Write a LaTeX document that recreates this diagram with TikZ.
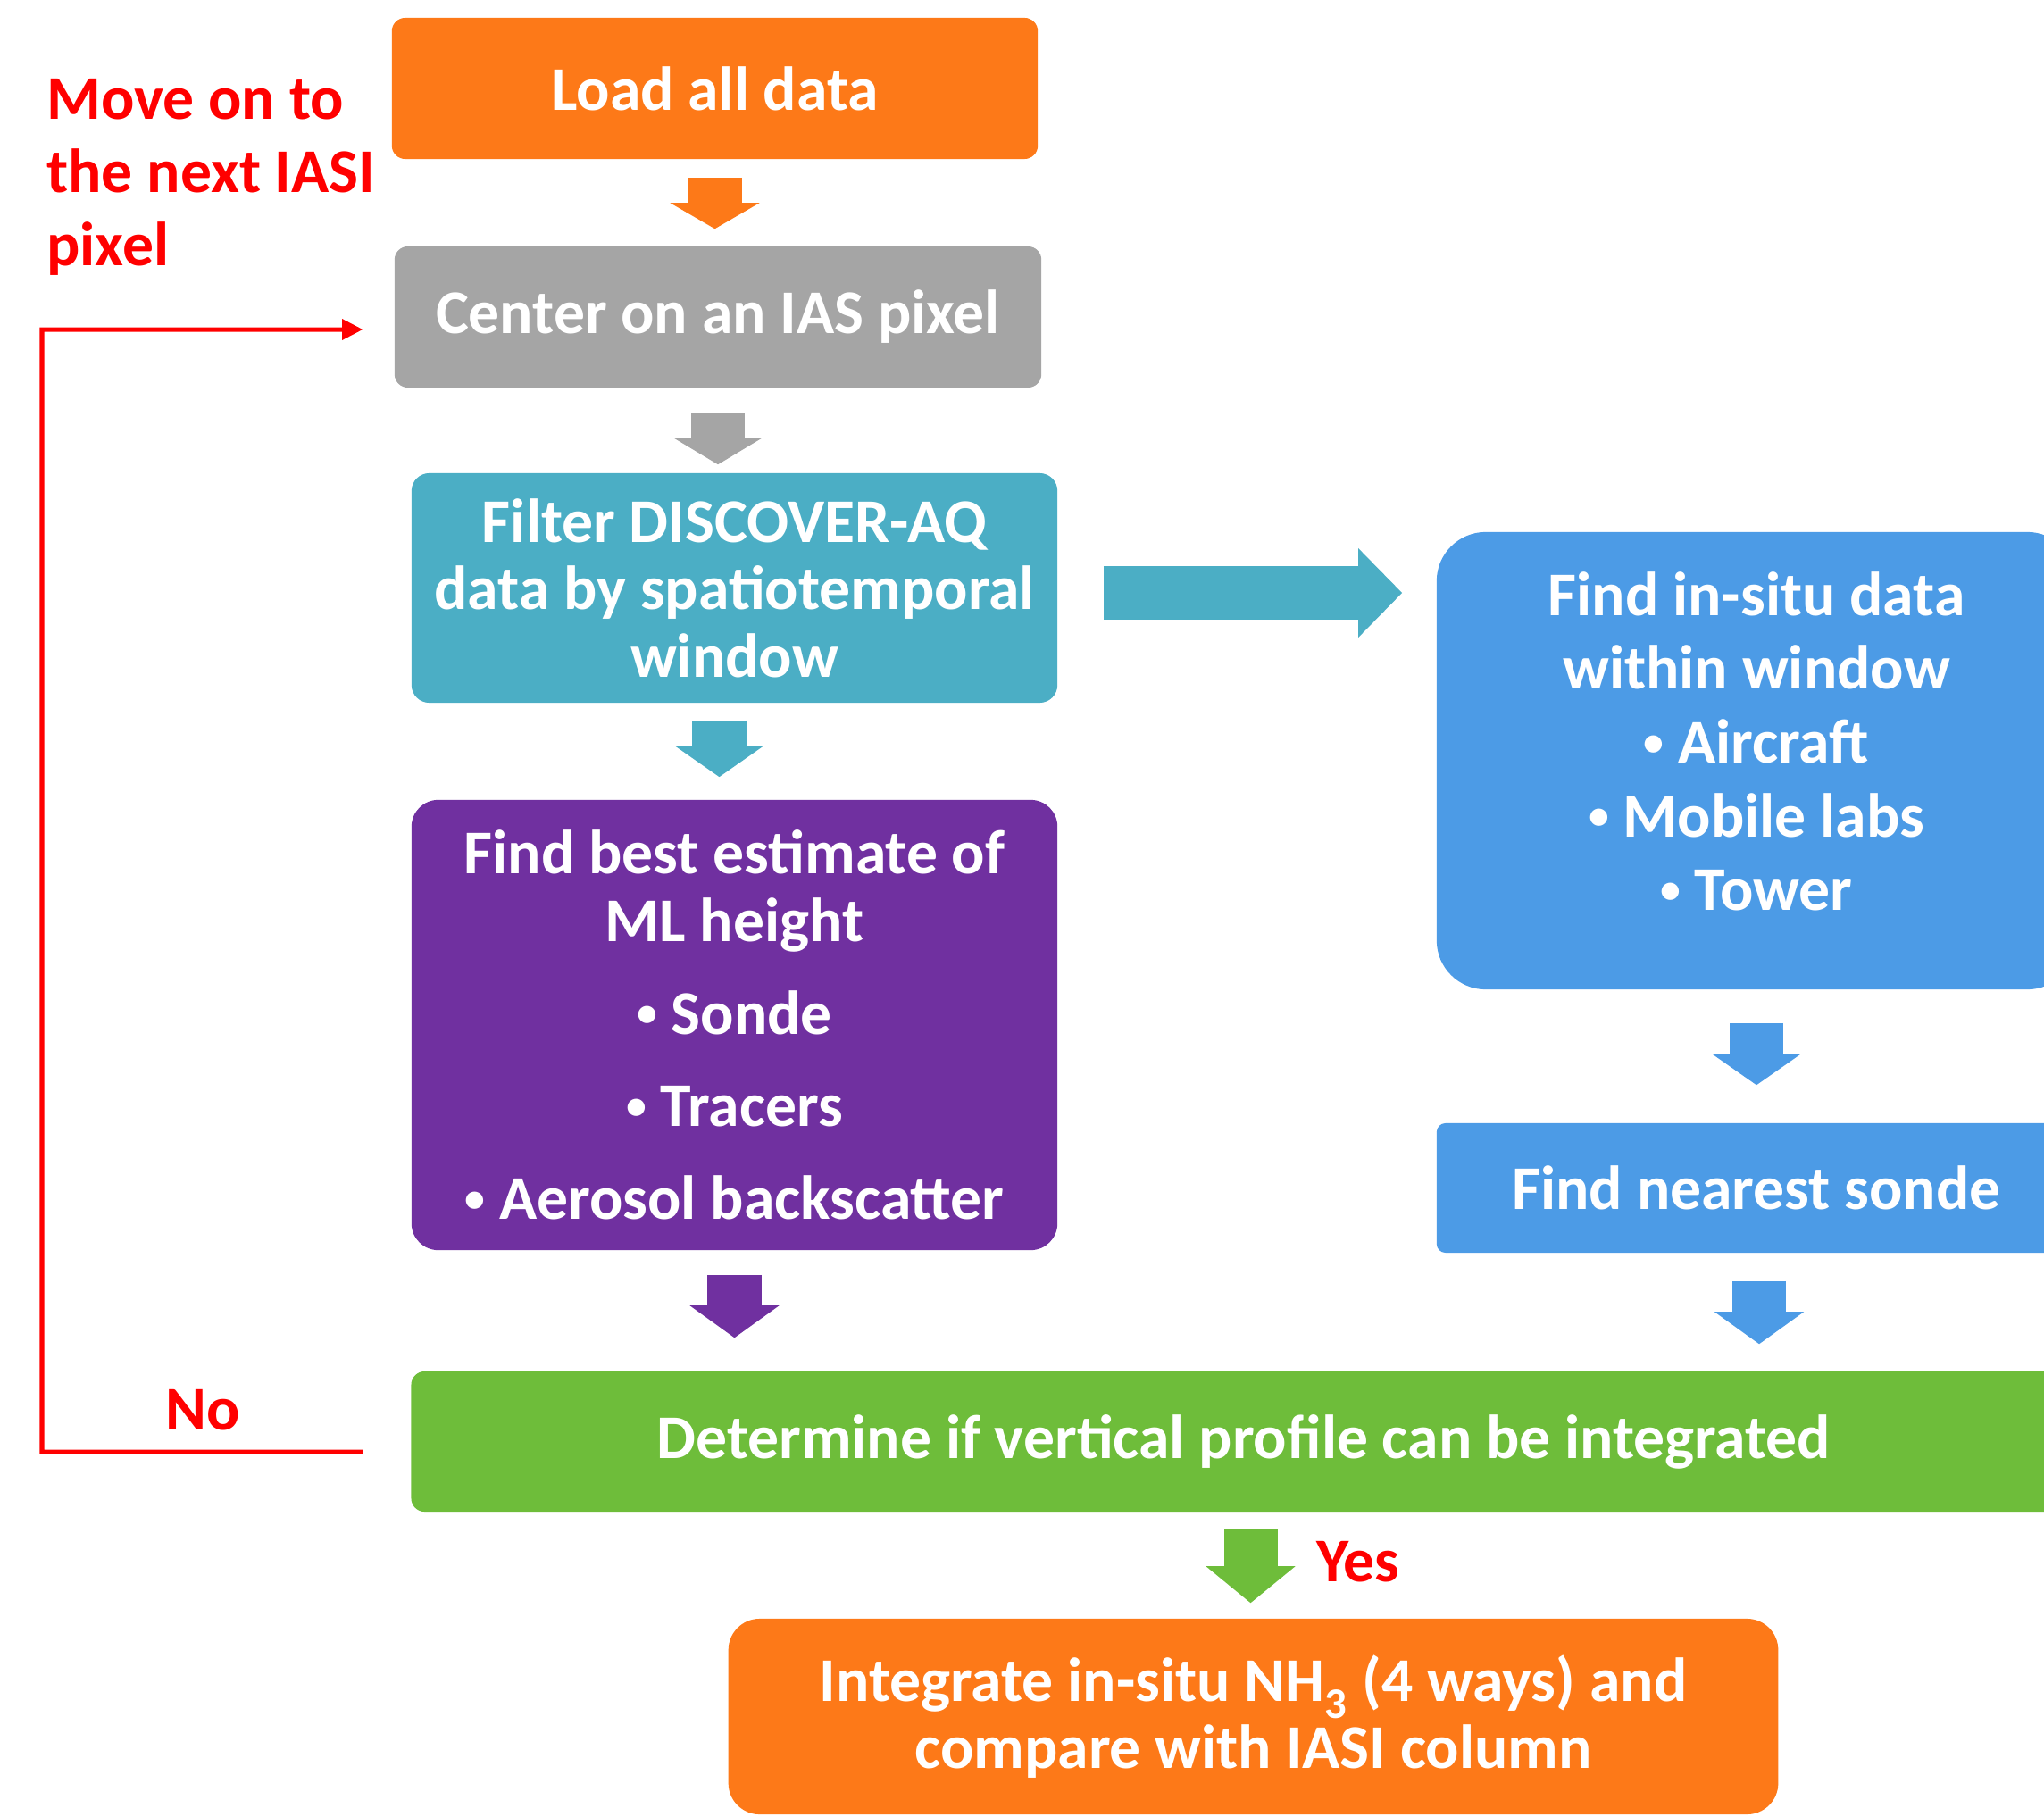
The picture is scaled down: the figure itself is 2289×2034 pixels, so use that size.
\documentclass[tikz,border=0pt]{standalone}
\usepackage{fontspec}
\setmainfont{Carlito}
\usetikzlibrary{arrows.meta,calc}
\definecolor{loadorange}{RGB}{253,121,24}
\definecolor{pixelgray}{RGB}{165,165,165}
\definecolor{filterteal}{RGB}{75,174,197}
\definecolor{mlpurple}{RGB}{112,48,160}
\definecolor{situblue}{RGB}{76,155,230}
\definecolor{profgreen}{RGB}{110,189,58}
\definecolor{loopred}{RGB}{255,0,0}
\newcommand{\itemdot}{\raisebox{0.12em}{\fontsize{13}{13}\selectfont•}}

\begin{document}
\begin{tikzpicture}[x=0.01cm, y=-0.01cm,
	stepbox/.style={rectangle, rounded corners=#1, inner sep=0pt, text=white, align=center,
		font=\fontsize{19.8}{21.5}\selectfont\bfseries},
	stepbox/.default=0.15cm,
	blockarrow/.style={line width=0.6cm, -{Triangle[length=#1, width=1cm, line width=0pt]}},
	redtext/.style={text=loopred, font=\fontsize{19.8}{23.3}\selectfont\bfseries},
	loopline/.style={loopred, line width=0.05cm, -{Triangle[length=0.23cm, width=0.24cm, line width=0pt]}}]
	\useasboundingbox (0,0) rectangle (2289,2034);
	
	% Left column of steps
	\node[stepbox, fill=loadorange, minimum width=7.23cm, minimum height=1.58cm] (load) at (800.5,99) {Load all data};
	\node[stepbox, fill=pixelgray, minimum width=7.24cm, minimum height=1.58cm] (center) at (804,355) {Center on an IAS pixel};
	\node[stepbox=0.2cm, fill=filterteal, minimum width=7.23cm, minimum height=2.57cm] (filter) at (822.5,658.5)
		{Filter DISCOVER-AQ\\data by spatiotemporal\\window};
	\node[stepbox=0.3cm, fill=mlpurple, minimum width=7.23cm, minimum height=5.04cm] (best) at (822.5,1148)
		{Find best estimate of\\ML height\\[0.28cm]\itemdot\ Sonde\\[0.28cm]\itemdot\ Tracers\\[0.28cm]\itemdot\ Aerosol backscatter};
	
	% Right column of steps
	\node[stepbox=0.55cm, fill=situblue, minimum width=7.16cm, minimum height=5.12cm, text depth=0.44cm,
		font=\fontsize{19.8}{23.5}\selectfont\bfseries] (insitu) at (1967,852)
		{Find in-situ data\\within window\\\itemdot\ Aircraft\\\itemdot\ Mobile labs\\\itemdot\ Tower};
	\node[stepbox=0.1cm, fill=situblue, minimum width=7.16cm, minimum height=1.45cm] (sonde) at (1967,1330.5) {Find nearest sonde};
	
	% Bottom steps
	\node[stepbox, fill=profgreen, minimum width=18.64cm, minimum height=1.57cm] (determine) at (1393,1614.5)
		{Determine if vertical profile can be integrated};
	\node[stepbox=0.35cm, fill=loadorange, minimum width=11.75cm, minimum height=2.19cm] (final) at (1403.5,1922.5)
		{Integrate in-situ NH\raisebox{-0.12em}{\textsubscript{3}} (4 ways) and\\compare with IASI column};
	
	% Block arrows between steps
	\draw[blockarrow=0.29cm, loadorange, shorten <=0.2cm, shorten >=0.19cm] (load.south) -- (load.south |- center.north);
	\draw[blockarrow=0.3cm, pixelgray, shorten <=0.28cm, shorten >=0.09cm] (center.south) -- (center.south |- filter.north);
	\draw[blockarrow=0.35cm, filterteal, shorten <=0.19cm, shorten >=0.25cm] ([xshift=-0.17cm]filter.south) -- ([xshift=-0.17cm]best.north);
	\draw[blockarrow=0.49cm, filterteal, shorten <=0.51cm, shorten >=0.38cm] ([yshift=-0.055cm]filter.east) -- ([yshift=-0.055cm]filter.east -| insitu.west);
	\draw[blockarrow=0.36cm, mlpurple, shorten <=0.27cm, shorten >=0.37cm] (best.south) -- (best.south |- determine.north);
	\draw[blockarrow=0.35cm, situblue, shorten <=0.37cm, shorten >=0.42cm] (insitu.south) -- (sonde.north);
	\draw[blockarrow=0.36cm, situblue, shorten <=0.31cm, shorten >=0.3cm] ([xshift=0.03cm]sonde.south) -- ([xshift=0.03cm]sonde.south |- determine.north);
	\draw[blockarrow=0.41cm, profgreen, shorten <=0.19cm, shorten >=0.17cm] ([xshift=-0.03cm]final.north |- determine.south) -- ([xshift=-0.03cm]final.north)
		node[redtext, pos=0.47, right=0.32cm] (yes) {Yes};
	
	% Loop back to the next pixel
	\node[redtext, anchor=west, align=left] (moveon) at (40,198) {Move on to\\the next IASI\\pixel};
	\draw[loopline] ([xshift=-0.53cm, yshift=-0.115cm]determine.west) -- node[redtext, above=0.1cm] (no) {No}
		(47,1626) |- ([xshift=-0.35cm, yshift=-0.14cm]center.west);
\end{tikzpicture}
\end{document}
